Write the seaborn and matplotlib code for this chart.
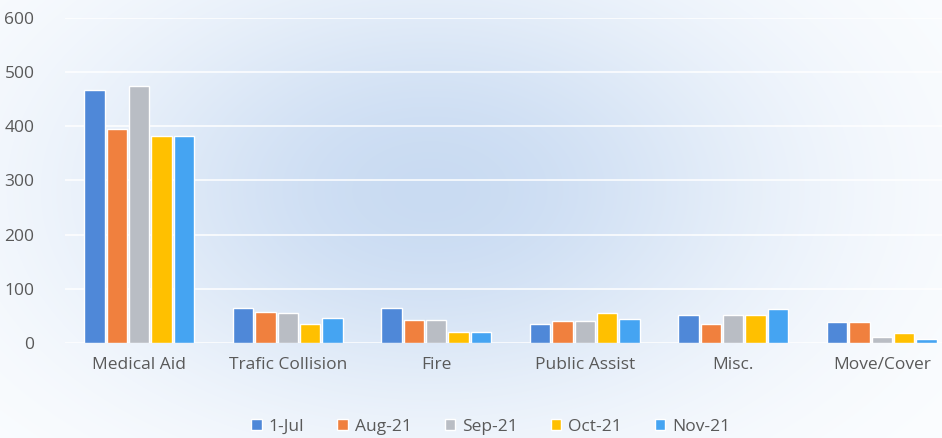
import numpy as np
import pandas as pd
import matplotlib
matplotlib.use("Agg")
import matplotlib.pyplot as plt
import seaborn as sns

# ── data ─────────────────────────────────────────────────────────────────────
categories = ["Medical Aid", "Trafic Collision", "Fire", "Public Assist", "Misc.", "Move/Cover"]
months = ["1-Jul", "Aug-21", "Sep-21", "Oct-21", "Nov-21"]
jul = [467, 65, 65, 35, 52, 39]
aug = [395, 57, 42, 41, 36, 39]
sep = [474, 55, 42, 41, 52, 11]
oct_ = [382, 35, 20, 55, 52, 18]
nov = [382, 46, 21, 45, 62, 7]
colors = ["#4F88D8", "#F0803E", "#B9BDC4", "#FFC000", "#45A4F2"]

df = pd.DataFrame({"category": categories * 5,
                   "month": np.repeat(months, len(categories)),
                   "value": jul + aug + sep + oct_ + nov})

sns.set_theme(style="white")
plt.rcParams["font.family"] = ["Open Sans", "DejaVu Sans"]

fig = plt.figure(figsize=(9.42, 4.38), dpi=100)

# soft blue radial background
bg = fig.add_axes([0, 0, 1, 1], zorder=0)
yy, xx = np.mgrid[0:438, 0:942]
r2 = ((xx - 430) / 380.0) ** 2 + ((yy - 190) / 240.0) ** 2
t = 1 - np.exp(-r2 * 1.2)
c0 = np.array([0.79, 0.86, 0.95])
c1 = np.array([0.99, 0.995, 1.0])
img = c0 * (1 - t[..., None]) + c1 * t[..., None]
bg.imshow(img, aspect="auto", extent=[0, 1, 0, 1])
bg.axis("off")

ax = fig.add_axes([65 / 942, 1 - 343 / 438, 891 / 942, 325 / 438], zorder=1)
ax.patch.set_alpha(0)
sns.barplot(data=df, x="category", y="value", hue="month", order=categories,
            hue_order=months, palette=colors, width=0.75, gap=0.08,
            saturation=1, ax=ax, legend=True)

ax.set_ylim(0, 600)
ax.set_yticks(range(0, 601, 100))
ax.set_xlim(-0.5, 5.5)
ax.grid(axis="y", color="white", linewidth=1.2, alpha=0.9)
ax.set_axisbelow(True)
for s in ax.spines.values():
    s.set_visible(False)
ax.set_xlabel("")
ax.set_ylabel("")
ax.tick_params(axis="both", length=0, labelsize=12.5, colors="#595959")
ax.tick_params(axis="y", pad=22)
ax.tick_params(axis="x", pad=10)

ax.legend(loc="lower center", bbox_to_anchor=(0.478, -0.33), ncol=5, frameon=False,
          fontsize=12.5, handlelength=0.6, handleheight=0.6, handletextpad=0.4,
          columnspacing=1.9, labelcolor="#595959")

fig.savefig("out.png", dpi=100)
